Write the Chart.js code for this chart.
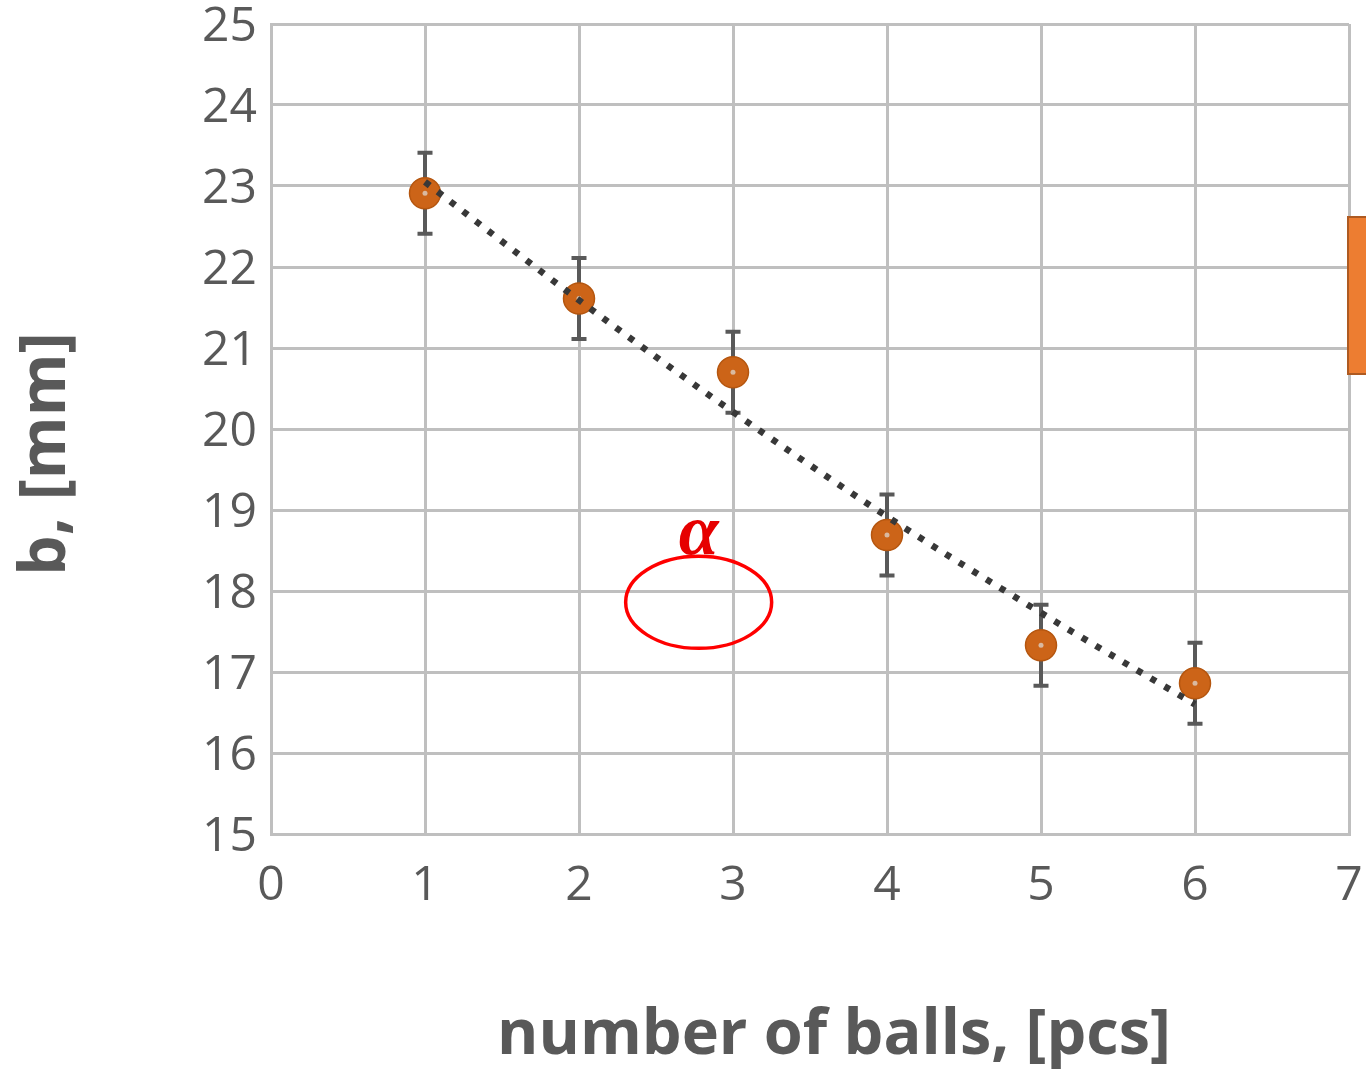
<!DOCTYPE html>
<html>
<head>
<meta charset="utf-8">
<script src="https://cdn.jsdelivr.net/npm/chart.js@4.4.1/dist/chart.umd.min.js"></script>
<style>
  html, body { margin: 0; padding: 0; background: #ffffff; overflow: hidden; }
  #wrap { position: relative; width: 1366px; height: 1074px; }
</style>
</head>
<body>
<div id="wrap"><canvas id="c" width="1366" height="1074"></canvas></div>
<script>
// ---- data ----
const ballCounts = [1, 2, 3, 4, 5, 6];
const bValues    = [22.91, 21.61, 20.70, 18.69, 17.33, 16.86];
const bErrors    = [0.5, 0.5, 0.5, 0.5, 0.5, 0.5];
const trendValues = [23.05, 21.59, 20.21, 18.92, 17.73, 16.60];
const xTicks = [0, 1, 2, 3, 4, 5, 6, 7];
const yTicks = [15, 16, 17, 18, 19, 20, 21, 22, 23, 24, 25];
const xTitle = 'number of balls, [pcs]';
const yTitle = 'b, [mm]';
const annotationLabel = 'α';
const annotationAt = { x: 2.777, y: 17.86 };

const pointData = ballCounts.map((x, i) => ({ x: x, y: bValues[i] }));
const trendData = ballCounts.map((x, i) => ({ x: x, y: trendValues[i] }));

const gridColor = '#BFBFBF';
const textColor = '#595959';

const errorBarPlugin = {
  id: 'errorBars',
  beforeDatasetsDraw(chart) {
    const ctx = chart.ctx;
    const xs = chart.scales.x, ys = chart.scales.y;
    ctx.save();
    ctx.strokeStyle = '#595959';
    ctx.lineWidth = 4;
    ctx.lineCap = 'butt';
    ballCounts.forEach((x, i) => {
      const px = xs.getPixelForValue(x);
      const top = ys.getPixelForValue(bValues[i] + bErrors[i]);
      const bot = ys.getPixelForValue(bValues[i] - bErrors[i]);
      ctx.beginPath();
      ctx.moveTo(px, top); ctx.lineTo(px, bot);
      ctx.moveTo(px - 7.5, top); ctx.lineTo(px + 7.5, top);
      ctx.moveTo(px - 7.5, bot); ctx.lineTo(px + 7.5, bot);
      ctx.stroke();
    });
    ctx.restore();
  }
};

const decorPlugin = {
  id: 'decor',
  afterDraw(chart) {
    const ctx = chart.ctx;
    const xs = chart.scales.x, ys = chart.scales.y;
    ctx.save();
    // annotation ellipse and alpha
    const cx = xs.getPixelForValue(annotationAt.x);
    const cy = ys.getPixelForValue(annotationAt.y);
    ctx.strokeStyle = '#FF0000';
    ctx.lineWidth = 3.5;
    ctx.beginPath();
    ctx.ellipse(cx, cy, 73, 46, 0, 0, Math.PI * 2);
    ctx.stroke();
    ctx.fillStyle = '#E60000';
    ctx.font = 'italic bold 72px "Liberation Serif", "DejaVu Serif", serif';
    ctx.textAlign = 'center';
    ctx.textBaseline = 'alphabetic';
    ctx.fillText(annotationLabel, cx, cy - 48);

    // partial legend swatch at the right edge
    ctx.fillStyle = '#ED7D31';
    ctx.strokeStyle = '#AE5A21';
    ctx.lineWidth = 2;
    ctx.fillRect(1348, 217, 30, 157);
    ctx.strokeRect(1348, 217, 30, 157);

    // axis titles
    ctx.fillStyle = textColor;
    ctx.font = 'bold 63px "Open Sans", "Noto Sans", sans-serif';
    ctx.textAlign = 'center';
    ctx.textBaseline = 'middle';
    ctx.fillText(xTitle, 834, 1036);
    ctx.font = 'bold 64px "Open Sans", "Noto Sans", sans-serif';
    ctx.translate(47, 454);
    ctx.rotate(-Math.PI / 2);
    ctx.fillText(yTitle, 0, 0);
    ctx.restore();
  }
};

new Chart(document.getElementById('c'), {
  type: 'scatter',
  data: {
    datasets: [
      {
        label: 'trend',
        data: trendData,
        showLine: true,
        borderColor: '#383838',
        borderWidth: 6.5,
        borderDash: [6, 10],
        borderCapStyle: 'butt',
        cubicInterpolationMode: 'monotone',
        pointRadius: 0,
        pointHoverRadius: 0,
        order: 0
      },
      {
        label: 'center',
        data: pointData,
        pointRadius: 2.5,
        pointBackgroundColor: '#D9B9A0',
        pointBorderWidth: 0,
        order: 1
      },
      {
        label: 'b',
        data: pointData,
        pointRadius: 15.5,
        pointBackgroundColor: '#CC6418',
        pointBorderColor: '#B5560F',
        pointBorderWidth: 1.5,
        order: 2
      }
    ]
  },
  options: {
    responsive: false,
    animation: false,
    events: [],
    layout: { padding: { left: 0, right: 16, top: 24, bottom: 0 } },
    plugins: { legend: { display: false }, tooltip: { enabled: false } },
    scales: {
      x: {
        type: 'linear',
        min: 0, max: 7,
        afterFit(scale) {
          scale.height = 240;
          scale.paddingLeft = 0; scale.paddingRight = 0;
          scale.paddingTop = 0; scale.paddingBottom = 0;
        },
        afterBuildTicks(scale) { scale.ticks = xTicks.map(v => ({ value: v })); },
        grid: { color: gridColor, lineWidth: 3, drawTicks: false },
        border: { color: gridColor, width: 3 },
        ticks: {
          color: textColor,
          font: { family: '"Open Sans", "Noto Sans", sans-serif', size: 48 },
          padding: 24,
          maxRotation: 0,
          autoSkip: false
        }
      },
      y: {
        type: 'linear',
        min: 15, max: 25,
        afterFit(scale) {
          scale.width = 271;
          scale.paddingLeft = 0; scale.paddingRight = 0;
          scale.paddingTop = 0; scale.paddingBottom = 0;
        },
        afterBuildTicks(scale) { scale.ticks = yTicks.map(v => ({ value: v })); },
        grid: { color: gridColor, lineWidth: 3, drawTicks: false },
        border: { color: gridColor, width: 3 },
        ticks: {
          color: textColor,
          font: { family: '"Open Sans", "Noto Sans", sans-serif', size: 48 },
          padding: 14,
          labelOffset: 3,
          autoSkip: false
        }
      }
    }
  },
  plugins: [errorBarPlugin, decorPlugin]
});
</script>
</body>
</html>
